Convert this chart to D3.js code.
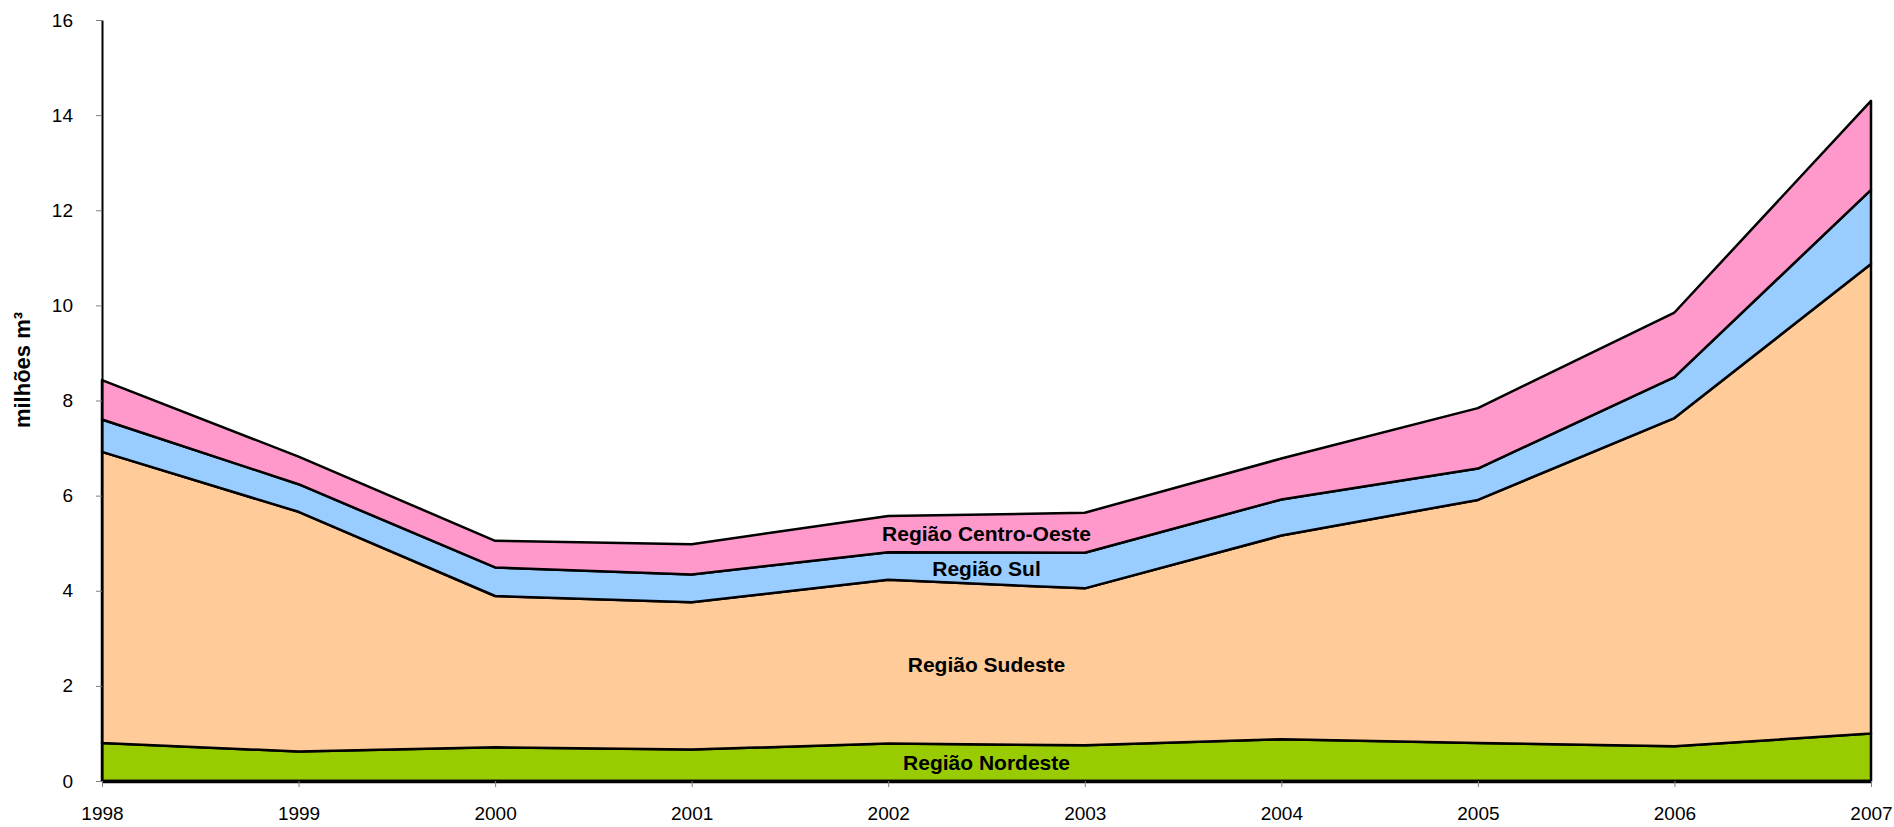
<!DOCTYPE html>
<html>
<head>
<meta charset="utf-8">
<script src="https://cdn.jsdelivr.net/npm/d3@7"></script>
<style>
  body { margin: 0; background: #fff; }
  svg { display: block; font-family: "Liberation Sans", Arial, sans-serif; }
  .tick text { font-size: 19px; fill: #000; }
  .tick line { stroke: #808080; }
  .bandLabel { font-size: 21px; font-weight: bold; fill: #000; }
</style>
</head>
<body>
<svg width="1894" height="827"></svg>
<script>
// anos e volumes (milhões m³) por região
const years = [1998, 1999, 2000, 2001, 2002, 2003, 2004, 2005, 2006, 2007];
const nordeste = [0.80, 0.62, 0.71, 0.66, 0.79, 0.75, 0.88, 0.80, 0.73, 1.00];
const sudeste = [6.12, 5.04, 3.18, 3.10, 3.44, 3.30, 4.28, 5.11, 6.90, 9.87];
const sul = [0.68, 0.58, 0.60, 0.58, 0.58, 0.75, 0.76, 0.66, 0.86, 1.56];
const centroOeste = [0.83, 0.58, 0.56, 0.64, 0.76, 0.84, 0.86, 1.27, 1.36, 1.87];

const keys = ["nordeste", "sudeste", "sul", "centroOeste"];
const names = ["Região Nordeste", "Região Sudeste", "Região Sul", "Região Centro-Oeste"];
const colours = ["#99cc00", "#ffcc99", "#99ccff", "#ff99cc"];
const yTicks = [0, 2, 4, 6, 8, 10, 12, 14, 16];
const labelYear = 2002.5; // labels sit between 2002 and 2003

//layout
const plotLeft = 102, plotRight = 1871, plotTop = 20, plotBottom = 781;

const svg = d3.select("svg");

const rows = years.map((y, i) => ({
    year: y,
    nordeste: nordeste[i],
    sudeste: sudeste[i],
    sul: sul[i],
    centroOeste: centroOeste[i],
}));

const series = d3.stack().keys(keys)(rows);

const x = d3.scaleLinear().domain([1998, 2007]).range([plotLeft, plotRight]);
const y = d3.scaleLinear().domain([0, 16]).range([plotBottom, plotTop]);

const area = d3
    .area()
    .x((d) => x(d.data.year))
    .y0((d) => y(d[0]))
    .y1((d) => y(d[1]));

svg.append("g")
    .attr("id", "areas")
    .selectAll("path")
    .data(series)
    .enter()
    .append("path")
    .attr("d", area)
    .attr("fill", (d, i) => colours[i])
    .attr("stroke", "#000")
    .attr("stroke-width", 2.5)
    .attr("stroke-linejoin", "round");

// y axis
const yAxis = svg
    .append("g")
    .attr("transform", "translate(" + plotLeft + ",0)")
    .call(d3.axisLeft(y).tickValues(yTicks).tickSize(6).tickSizeOuter(0).tickPadding(23));
yAxis.select(".domain").attr("stroke", "#000").attr("stroke-width", 2);
yAxis.selectAll(".tick text").attr("font-family", null).attr("font-size", null);

// x axis, baseline drawn thick like the original
const xAxis = svg
    .append("g")
    .attr("transform", "translate(0," + plotBottom + ")")
    .call(
        d3.axisBottom(x)
            .tickValues(years)
            .tickFormat(d3.format("d"))
            .tickSize(6)
            .tickSizeOuter(0)
            .tickPadding(20)
    );
xAxis.select(".domain").attr("stroke", "#000").attr("stroke-width", 3.5);
xAxis.selectAll(".tick text").attr("font-family", null).attr("font-size", null);

// axis title
svg.append("text")
    .attr("transform", "translate(30,370) rotate(-90)")
    .attr("text-anchor", "middle")
    .attr("font-size", 22)
    .attr("font-weight", "bold")
    .text("milhões m³");

// band labels at the middle of each band
function bandAt(s, yr) {
    const i = Math.floor(yr - years[0]);
    const t = yr - years[i];
    const a = s[i], b = s[i + 1];
    const lo = a[0] + (b[0] - a[0]) * t;
    const hi = a[1] + (b[1] - a[1]) * t;
    return (lo + hi) / 2;
}

svg.append("g")
    .selectAll("text")
    .data(series)
    .enter()
    .append("text")
    .attr("class", "bandLabel")
    .attr("x", x(labelYear))
    .attr("y", (d) => y(bandAt(d, labelYear)))
    .attr("dy", "0.35em")
    .attr("text-anchor", "middle")
    .text((d, i) => names[i]);
</script>
</body>
</html>
